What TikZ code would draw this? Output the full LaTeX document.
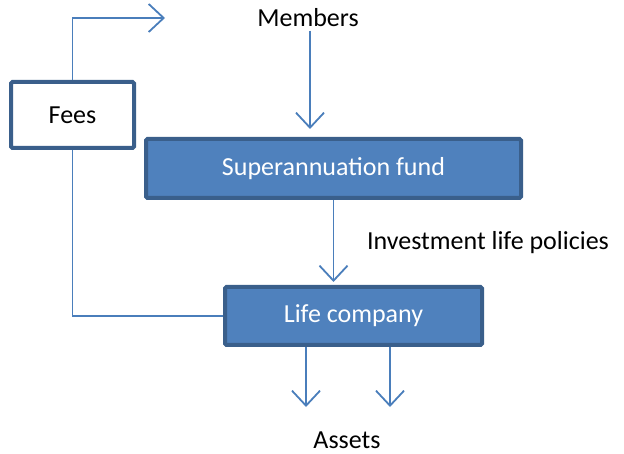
\documentclass[tikz,border=0pt]{standalone}
\usepackage{fontspec}
\setmainfont{Carlito}
\usetikzlibrary{arrows.meta}

\definecolor{boxblue}{HTML}{4F81BD}
\definecolor{boxedge}{HTML}{3A5F8B}
\definecolor{lineblue}{HTML}{4A7EBB}

\begin{document}
\begin{tikzpicture}[x=1pt,y=-1pt,
    font=\fontsize{26}{31}\selectfont,
    flow/.style={draw=lineblue,line width=1.8pt},
    arrow/.style={flow,-{Straight Barb[length=15pt,width=28pt,line width=1.8pt]}},
    fund node/.style={draw=boxedge,line width=4pt,rounded corners=1.5pt,fill=boxblue,text=white,inner sep=0pt},
    fee node/.style={fund node,fill=white,text=black}]
        \useasboundingbox (0,0) rectangle (624,454);

        \node[fee node,minimum width=123pt,minimum height=66pt] (fees) at (72.5,115) {Fees};
        \node[fund node,minimum width=375pt,minimum height=59pt] (fund) at (333.5,168.5) {Superannuation fund};
        \node[fund node,minimum width=257pt,minimum height=58pt] (life) at (353.5,316) {Life company};

        \node (members) at (308,18) {Members};
        \node (policies) at (488,243) {Investment life policies};
        \node (assets) at (347,440) {Assets};

        \coordinate (feesout) at (165,18);
        \coordinate (assetsL) at (306,407);
        \coordinate (assetsR) at (390,407);

        \draw[arrow] (fees.north) |- (feesout);
        \draw[arrow,shorten >=8pt] (members.south -| 310,0) -- (fund.north -| 310,0);
        \draw[arrow,shorten >=3pt] (fund.south) -- (fund.south |- life.north);
        \draw[flow] (fees.south) |- (life.west);
        \draw[arrow] (assetsL |- life.south) -- (assetsL);
        \draw[arrow] (assetsR |- life.south) -- (assetsR);
    \end{tikzpicture}
\end{document}
